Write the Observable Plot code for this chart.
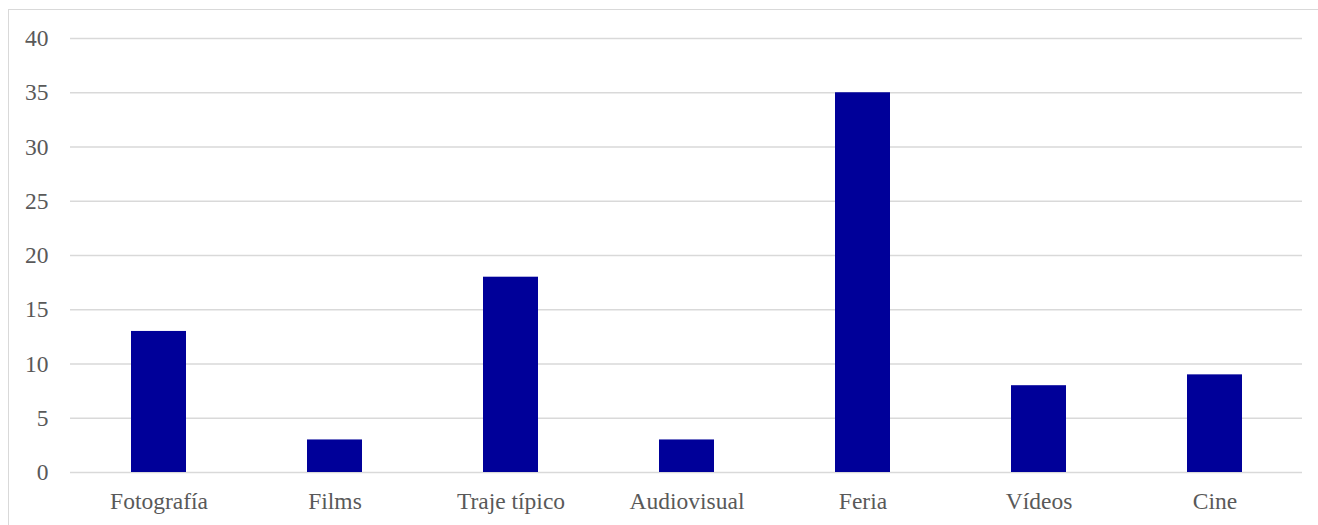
<!DOCTYPE html>
<html><head><meta charset="utf-8">
<script src="https://cdn.jsdelivr.net/npm/d3@7"></script>
<script src="https://cdn.jsdelivr.net/npm/@observablehq/plot@0.6"></script>
<style>
html,body{margin:0;padding:0;background:#fff;}
#wrap{position:relative;width:1318px;height:525px;overflow:hidden;}
#frame{position:absolute;left:8px;top:9px;width:1318px;height:600px;border-left:1.5px solid #d9d9d9;border-top:1.5px solid #d9d9d9;box-sizing:border-box;}
#chart{position:absolute;left:0;top:0;}
#chart svg, #chart svg text{font-family:"Liberation Serif","Times New Roman",serif !important;}
</style></head>
<body><div id="wrap"><div id="frame"></div><div id="chart"></div></div>
<script>
const categories = ["Fotografía","Films","Traje típico","Audiovisual","Feria","Vídeos","Cine"];
const values = [13,3,18,3,35,8,9];
const yTicks = [0,5,10,15,20,25,30,35,40];
const data = categories.map((c,i)=>({cat:c, value:values[i]}));
const chart = Plot.plot({
  width:1318, height:525,
  marginLeft:70, marginRight:16, marginTop:38, marginBottom:53,
  style:{fontSize:"23.5px", color:"#595959", background:"transparent"},
  x:{domain:categories, paddingInner:0.69, paddingOuter:0.345, label:null},
  y:{domain:[0,40], ticks:yTicks, label:null},
  marks:[
    Plot.gridY(yTicks,{stroke:"#d9d9d9", strokeOpacity:1, strokeWidth:1.5}),
    Plot.barY(data,{x:"cat", y:"value", fill:"#000099"}),
    Plot.axisX({tickSize:0, tickPadding:20, fontSize:23.5, fill:"#595959"}),
    Plot.axisY({ticks:yTicks, tickSize:0, tickPadding:22, fontSize:23.5, fill:"#595959"})
  ]
});
document.getElementById("chart").appendChild(chart);
</script></body></html>
